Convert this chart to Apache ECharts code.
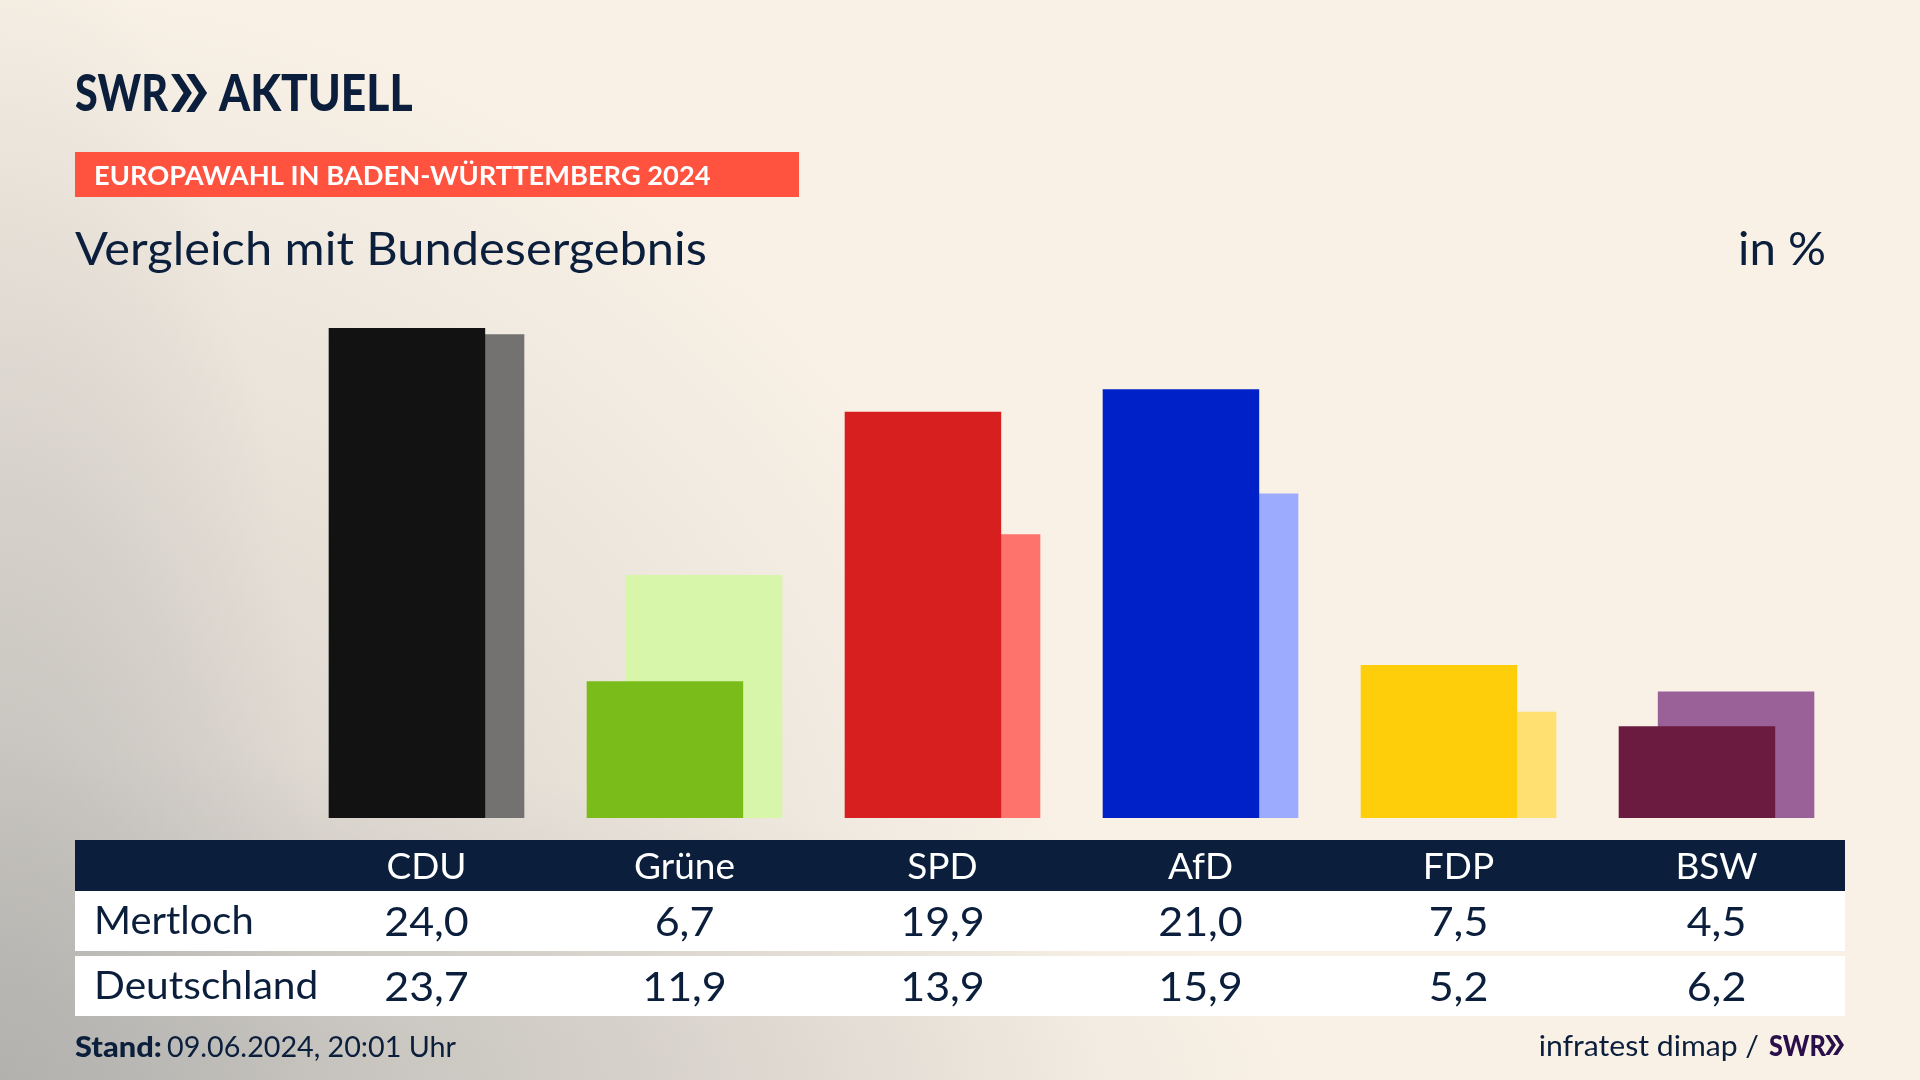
<!DOCTYPE html>
<html><head><meta charset="utf-8">
<style>
html,body{margin:0;padding:0;width:1920px;height:1080px;overflow:hidden;background:#f9f1e6;}
#bg{position:absolute;left:0;top:0;width:1920px;height:1080px;background:
 radial-gradient(ellipse 1300px 330px at 0% 100%,rgba(170,170,168,.55) 0%,rgba(170,170,168,0) 100%),
 radial-gradient(ellipse 320px 1180px at 0% 100%,rgba(170,170,168,.5) 0%,rgba(170,170,168,0) 100%),
 radial-gradient(circle 1100px at 0% 100%,rgba(170,170,168,.55) 0%,rgba(170,170,168,0) 100%),
 #f9f1e6;}
#c{position:absolute;left:0;top:0;width:1920px;height:1080px;}
</style>
<script src="https://cdn.jsdelivr.net/npm/echarts@6/dist/echarts.min.js"></script>
</head><body><div id="bg"></div><div id="c"></div>
<script>
const parties = ['CDU','Grüne','SPD','AfD','FDP','BSW'];
const localName = 'Mertloch';
const nationalName = 'Deutschland';
const localValues = [24.0,6.7,19.9,21.0,7.5,4.5];
const nationalValues = [23.7,11.9,13.9,15.9,5.2,6.2];
const localColors = ['#121212','#7abc1a','#d81f1f','#0020c8','#ffce0a','#6b1a40'];
const nationalColors = ['#737270','#d8f6aa','#ff736d','#9dabff','#ffe070','#9a6198'];

const navy = '#0b1f3c';
const font = 'Lato';
const fmt = v => v.toFixed(1).replace('.',',');

const chart = echarts.init(document.getElementById('c'), null, {renderer:'canvas'});
chart.setOption({
  animation:false,
  backgroundColor:'transparent',
  grid:{left:297.5,width:1548,top:328,height:490},
  xAxis:{type:'category',data:parties,z:100,axisLine:{show:false},axisTick:{show:false},
    axisLabel:{color:'#ffffff',fontFamily:font,fontSize:37,margin:31,interval:0}},
  yAxis:{type:'value',min:0,max:24,show:false,splitLine:{show:false}},
  series:[
    {name:localName,type:'bar',z:3,barWidth:156.5,barGap:'-75%',
      data:localValues.map((v,i)=>({value:v,itemStyle:{color:localColors[i]}}))},
    {name:nationalName,type:'bar',z:2,barWidth:156.5,
      data:nationalValues.map((v,i)=>({value:v,itemStyle:{color:nationalColors[i]}}))}
  ]
});

function txt(x,y,text,size,opt={}){
  return {type:'text',x,y,z:10,style:{text,fill:opt.fill||navy,font:(opt.weight||'400')+' '+size+'px '+(opt.font||font),
    textAlign:opt.align||'left',textVerticalAlign:'middle'},scaleX:opt.sx||1};
}
function rect(x,y,w,h,fill){return {type:'rect',z:1,shape:{x,y,width:w,height:h},style:{fill}};}
function chevrons(x,y,h,fill){
  const w=h*0.33, t=h*0.22, step=h*0.40;
  return [0,1].map(k=>({type:'polygon',z:10,shape:{points:[
    [x+k*step,y],[x+k*step+t,y],[x+k*step+t+w,y+h/2],[x+k*step+t,y+h],[x+k*step,y+h],[x+k*step+w,y+h/2]
  ]},style:{fill}}));
}

const centers = parties.map(p=>chart.convertToPixel({xAxisIndex:0},p));
const els = [
  rect(75,840,1770,51,navy),
  rect(75,891,1770,60,'#ffffff'),
  rect(75,956,1770,60,'#ffffff'),
  rect(75,152,724,45,'#ff523f'),
  txt(75,95,'SWR',51,{weight:'900',sx:0.81}),
  ...chevrons(171,74,38,navy),
  txt(219,95,'AKTUELL',51,{weight:'900',sx:0.87}),
  txt(94,176,'EUROPAWAHL IN BADEN-WÜRTTEMBERG 2024',27,{weight:'700',fill:'#ffffff',sx:1.01}),
  txt(75,250,'Vergleich mit Bundesergebnis',46,{sx:1.06}),
  txt(1826,250,'in %',46,{align:'right',sx:1.03}),
  txt(94,922,localName,38,{sx:1.05}),
  txt(94,987,nationalName,38,{sx:1.07}),
  txt(75,1048,'Stand:',28,{weight:'900',sx:1.1}),
  txt(167,1048,'09.06.2024, 20:01 Uhr',28,{sx:1.025}),
  txt(1759,1047,'infratest dimap /',29,{align:'right',sx:1.04}),
  txt(1769,1047,'SWR',28,{weight:'900',fill:'#2a0f4a',sx:0.9}),
  ...chevrons(1825,1035,20,'#2a0f4a'),
];
parties.forEach((p,i)=>{
  els.push(txt(centers[i],923,fmt(localValues[i]),41,{align:'center',sx:1.05}));
  els.push(txt(centers[i],988,fmt(nationalValues[i]),41,{align:'center',sx:1.05}));
});
chart.setOption({graphic:{elements:els}});
</script></body></html>
